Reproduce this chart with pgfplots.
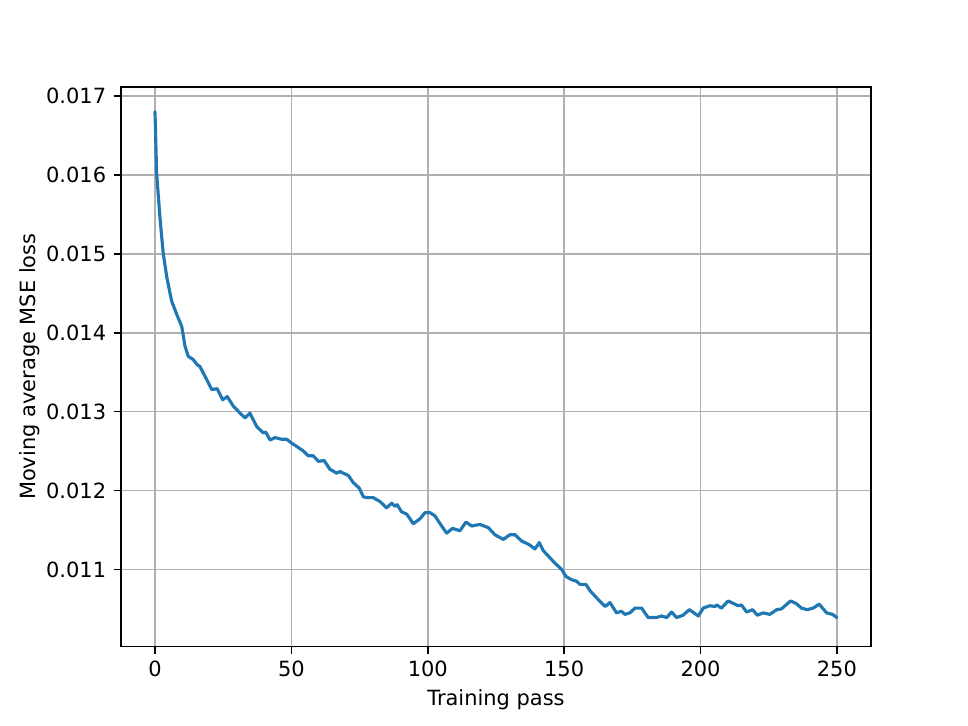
\documentclass[border=0pt]{standalone}
\usepackage{pgfplots}
\pgfplotsset{compat=1.18}
\usepackage{fontspec}
\setmainfont{DejaVu Sans}
\definecolor{mplblue}{HTML}{1F77B4}
\begin{document}
\begin{tikzpicture}
\begin{axis}[
    scale only axis,
    width=358pt, height=267pt,
    xmin=-12.5, xmax=262.5,
    ymin=0.010025, ymax=0.017114,
    xtick={0,50,100,150,200,250},
    ytick={0.011,0.012,0.013,0.014,0.015,0.016,0.017},
    scaled y ticks=false,
    yticklabel style={/pgf/number format/fixed, /pgf/number format/precision=3, /pgf/number format/fixed zerofill},
    /pgf/number format/assume math mode=true,
    tick label style={font=\fontsize{10}{12}\selectfont},
    label style={font=\fontsize{10}{12}\selectfont},
    xlabel={Training pass},
    ylabel={Moving average MSE loss},
    ylabel style={yshift=-4pt},
    xlabel style={yshift=1pt},
    grid=major,
    major grid style={color=black!31, line width=0.8pt},
    axis line style={line width=0.8pt},
    tick style={line width=0.8pt, black},
    tick align=outside,
    major tick length=3.5pt,
    xtick pos=bottom, ytick pos=left,
]
\addplot[mplblue, line width=1.5pt, line join=round, line cap=round] coordinates {
(0,0.01680)(0.6,0.01602)(1.8,0.01547)(3,0.01501)(4.3,0.01471)(6.1,0.01440)(8,0.01423)(9.8,0.01408)(11,0.01383)(12.2,0.01370)(14,0.01366)(15.3,0.01360)(16.5,0.01357)(18.3,0.01345)(20.8,0.01328)(22.8,0.01329)(24.8,0.01315)(26.5,0.01319)(28.7,0.01307)(31.2,0.01298)(33,0.01292)(34.8,0.01298)(37.3,0.01281)(39.7,0.01273)(40.6,0.01274)(42.2,0.01264)(44,0.01267)(46.4,0.01265)(48.3,0.01265)(50.1,0.01260)(51.9,0.01256)(54.4,0.01250)(56.2,0.01244)(58,0.01244)(59.9,0.01237)(62,0.01238)(64.1,0.01227)(66.6,0.01222)(67.8,0.01224)(70.9,0.01219)(72.7,0.01210)(74.9,0.01203)(76.4,0.01192)(77.8,0.01191)(80,0.01191)(82.5,0.01186)(84.9,0.01178)(86.8,0.01184)(88,0.01180)(88.8,0.01182)(90.4,0.01173)(92.3,0.01170)(94.7,0.01158)(97.1,0.01164)(99,0.01172)(100.8,0.01172)(102.6,0.01168)(105.1,0.01155)(106.9,0.01146)(109.1,0.01152)(111.8,0.01149)(114,0.01160)(116.1,0.01155)(119.1,0.01157)(122.2,0.01153)(124.6,0.01144)(127.7,0.01138)(130.1,0.01144)(132,0.01144)(134.4,0.01136)(136.9,0.01132)(139.3,0.01126)(140.9,0.01134)(142.3,0.01124)(144.2,0.01117)(146.6,0.01108)(149.1,0.01100)(150.7,0.01091)(152.7,0.01087)(154.6,0.01085)(155.8,0.01081)(158,0.01081)(159.5,0.01073)(161.9,0.01064)(165,0.01053)(166.8,0.01058)(169.2,0.01045)(171,0.01047)(172.3,0.01043)(174.1,0.01045)(176,0.01051)(178.4,0.01051)(180.8,0.01039)(183.8,0.01039)(185.7,0.01041)(187.6,0.01039)(189.4,0.01046)(191.2,0.01039)(193.6,0.01042)(195.9,0.01049)(199.2,0.01041)(201,0.01051)(203.4,0.01054)(205.3,0.01053)(205.9,0.01055)(207.7,0.01051)(210.1,0.01060)(212,0.01057)(213.8,0.01054)(215,0.01055)(216.9,0.01046)(219.1,0.01049)(220.8,0.01042)(223,0.01045)(225.4,0.01043)(227.9,0.01049)(229.7,0.01050)(231,0.01054)(233,0.01060)(235,0.01057)(237,0.01051)(239.1,0.01049)(241.3,0.01051)(243.5,0.01056)(246.2,0.01045)(248.4,0.01043)(250,0.01039)
};
\end{axis}
\pgfresetboundingbox
\path[use as bounding box] ([shift={(-57.7pt,-37.7pt)}]current axis.south west) rectangle ([shift={(46.3pt,41.5pt)}]current axis.north east);
\end{tikzpicture}
\end{document}
